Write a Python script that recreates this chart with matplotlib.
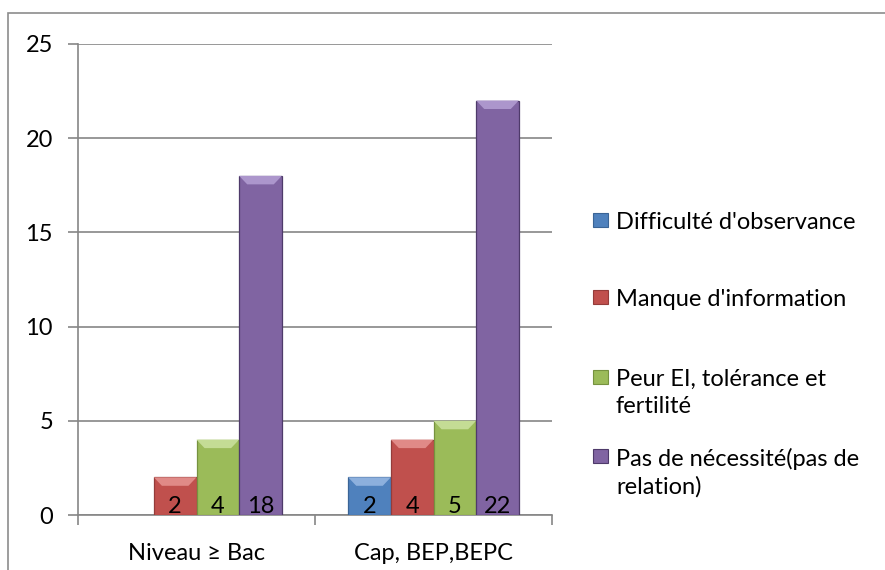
import numpy as np
import matplotlib.pyplot as plt
from matplotlib.patches import Rectangle, Polygon

plt.rcParams['font.family'] = ['Lato', 'DejaVu Sans']

# --- données ---
categories = ["Niveau \u2265 Bac", "Cap, BEP,BEPC"]
series_names = ["Difficulté d'observance", "Manque d'information",
                "Peur EI, tolérance et\nfertilité", "Pas de nécessité(pas de\nrelation)"]
difficulte = [0, 2]
manque_info = [2, 4]
peur_ei = [4, 5]
pas_necessite = [18, 22]
y_ticks = [0, 5, 10, 15, 20, 25]

colors = ["#4F81BD", "#C0504D", "#9BBB59", "#8064A2"]
edges = ["#3A6496", "#943C3A", "#76923F", "#4E3A6A"]
tops = ["#8DB0DD", "#E08A87", "#C4DC95", "#AC96CC"]

FS = 17
fig = plt.figure(figsize=(8.85, 5.70), dpi=100)
W, H = 885, 570
ax = fig.add_axes([78 / W, 1 - 515 / H, (552 - 78) / W, (515 - 44) / H])

# cadre extérieur (seuls les bords gauche et haut sont visibles)
fig.patches.append(Rectangle((8 / W, -0.2), 1.2, 1 - 13 / H + 0.2,
                             transform=fig.transFigure, fill=False,
                             edgecolor="#8c8c8c", linewidth=1.2, zorder=0))

x = np.arange(len(categories))
width = 0.18
bev_h = 0.45    # hauteur du biseau (unités de données)
bev_w = 0.034   # retrait horizontal du biseau
all_series = [difficulte, manque_info, peur_ei, pas_necessite]
for i, vals in enumerate(all_series):
    offs = x + (i - 1.5) * width
    for xi, v in zip(offs, vals):
        if v == 0:
            continue
        ax.bar(xi, v, width, color=colors[i], edgecolor=edges[i],
               linewidth=0.9, zorder=3)
        l, r = xi - width / 2, xi + width / 2
        ax.add_patch(Polygon([(l, v), (r, v), (r - bev_w, v - bev_h),
                              (l + bev_w, v - bev_h)], closed=True,
                             facecolor=tops[i], edgecolor="none", zorder=4))
        ax.text(xi, 0.45, str(v), ha="center", va="center",
                fontsize=FS, color="black", zorder=5)

ax.set_xlim(-0.5, 1.5)
ax.set_ylim(0, 25)
ax.set_yticks(y_ticks)
ax.set_yticklabels([str(t) for t in y_ticks], fontsize=FS)
ax.yaxis.grid(True, color="#868686", linewidth=1.2, zorder=0)
ax.set_axisbelow(True)

ax.set_xticks([-0.5, 0.5, 1.5])
ax.set_xticklabels([])
ax.set_xticks(x, minor=True)
ax.set_xticklabels(categories, minor=True, fontsize=FS)
ax.tick_params(axis="x", which="minor", length=0, pad=20)
ax.tick_params(axis="x", which="major", length=7, color="#868686", width=1.2)
ax.tick_params(axis="y", length=7, color="#868686", width=1.2, pad=11)

for s in ["top", "right"]:
    ax.spines[s].set_visible(False)
for s in ["left", "bottom"]:
    ax.spines[s].set_color("#868686")
    ax.spines[s].set_linewidth(1.2)

# légende dessinée à la main (carré aligné sur la première ligne)
leg_y = [220, 297, 377, 456]
for i, name in enumerate(series_names):
    yc = leg_y[i]
    fig.patches.append(Rectangle((593 / W, 1 - (yc + 7) / H), 15 / W, 14 / H,
                                 transform=fig.transFigure,
                                 facecolor=colors[i], edgecolor=edges[i],
                                 linewidth=0.8))
    fig.text(616 / W, 1 - (yc - 8) / H, name, fontsize=FS, va="top",
             ha="left", linespacing=1.35)

fig.savefig("out.png", dpi=100)
